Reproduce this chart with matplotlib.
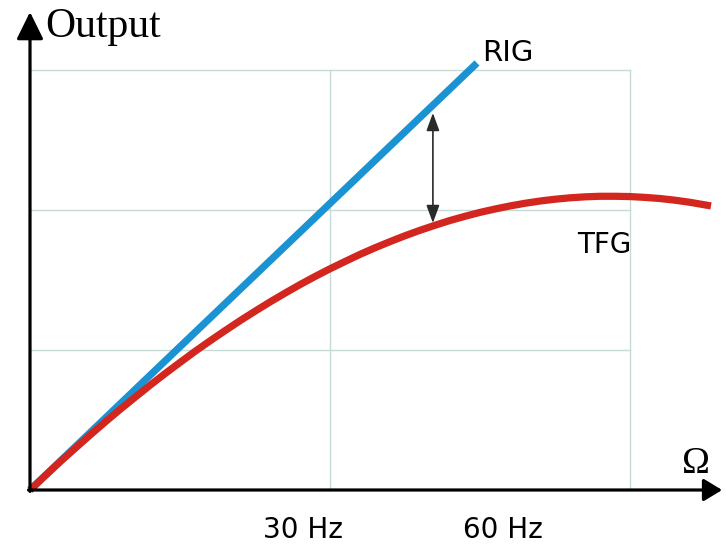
import matplotlib
matplotlib.use("Agg")
import matplotlib.pyplot as plt

# ---- data ----
rig_x = [0.0, 1.49]
rig_y = [0.0, 3.05]

tfg_x = [0.00, 0.05, 0.10, 0.15, 0.20, 0.25, 0.30, 0.35, 0.40, 0.45, 0.50,
         0.55, 0.60, 0.65, 0.70, 0.75, 0.80, 0.85, 0.90, 0.95, 1.00,
         1.05, 1.10, 1.15, 1.20, 1.25, 1.30, 1.35, 1.40, 1.45, 1.50,
         1.55, 1.60, 1.65, 1.70, 1.75, 1.80, 1.85, 1.90, 1.95, 2.00,
         2.05, 2.10, 2.15, 2.20, 2.27]
tfg_y = [0.000, 0.101, 0.201, 0.297, 0.392, 0.485, 0.575, 0.662, 0.748, 0.831, 0.911,
         0.990, 1.065, 1.138, 1.209, 1.277, 1.343, 1.406, 1.467, 1.525, 1.580,
         1.632, 1.683, 1.730, 1.774, 1.816, 1.855, 1.891, 1.925, 1.955, 1.983,
         2.007, 2.029, 2.048, 2.064, 2.077, 2.087, 2.094, 2.098, 2.098, 2.096,
         2.090, 2.082, 2.070, 2.055, 2.029]

gap_x = 1.343
gap_y = [1.907, 2.693]

grid_x = [1, 2]
grid_y = [1, 2, 3]

freq_pos = [0.91, 1.577]
freq_labels = ["30 Hz", "60 Hz"]

series_labels = ["RIG", "TFG"]

# ---- figure ----
W, H = 726, 546
fig = plt.figure(figsize=(W / 100, H / 100), dpi=100)
ax = fig.add_axes([30 / W, (H - 490) / H, 600 / W, 420 / H])
ax.set_xlim(0, 2)
ax.set_ylim(0, 3)
for s in ax.spines.values():
    s.set_visible(False)
ax.set_xticks([])
ax.set_yticks([])

grid_c = "#c6dad7"
for gx in grid_x:
    ax.plot([gx, gx], [0, 3], color=grid_c, lw=1.0, zorder=1, clip_on=False)
for gy in grid_y:
    ax.plot([0, 2], [gy, gy], color=grid_c, lw=1.0, zorder=1, clip_on=False)

# axes arrows
ax.annotate("", xy=(0, 3.414), xytext=(0, -0.01), annotation_clip=False,
            arrowprops=dict(arrowstyle="-|>,head_length=0.83,head_width=0.41",
                            mutation_scale=20, lw=2.3, color="black",
                            shrinkA=0, shrinkB=0), zorder=5)
ax.annotate("", xy=(2.307, 0), xytext=(-0.005, 0), annotation_clip=False,
            arrowprops=dict(arrowstyle="-|>,head_length=0.56,head_width=0.34",
                            mutation_scale=20, lw=2.3, color="black",
                            shrinkA=0, shrinkB=0), zorder=5)

# curves
ax.plot(rig_x, rig_y, color="#1b93d3", lw=5.2, solid_capstyle="butt", zorder=3, clip_on=False)
ax.plot(tfg_x, tfg_y, color="#d2261f", lw=5.2, solid_capstyle="butt",
        solid_joinstyle="round", zorder=4, clip_on=False)

# gap arrow
ax.annotate("", xy=(gap_x, gap_y[1]), xytext=(gap_x, gap_y[0]), annotation_clip=False,
            arrowprops=dict(arrowstyle="<|-|>,head_length=0.6,head_width=0.22",
                            mutation_scale=18, lw=1.2, color="#2a2a2a",
                            shrinkA=0, shrinkB=0), zorder=6)

# texts
ax.text(0.05, 3.236, "Output", family="Liberation Serif", fontsize=30,
        ha="left", va="baseline", clip_on=False)
ax.text(2.173, 0.121, "Ω", family="Liberation Serif", fontsize=27,
        ha="left", va="baseline", clip_on=False)
ax.text(1.507, 3.064, series_labels[0], family="DejaVu Sans", fontsize=21,
        ha="left", va="baseline", clip_on=False)
ax.text(1.823, 1.693, series_labels[1], family="DejaVu Sans", fontsize=20,
        ha="left", va="baseline", clip_on=False)
for p, lab in zip(freq_pos, freq_labels):
    ax.text(p, -0.345, lab, family="DejaVu Sans", fontsize=20,
            ha="center", va="baseline", clip_on=False)

fig.savefig("out.png", dpi=100)
